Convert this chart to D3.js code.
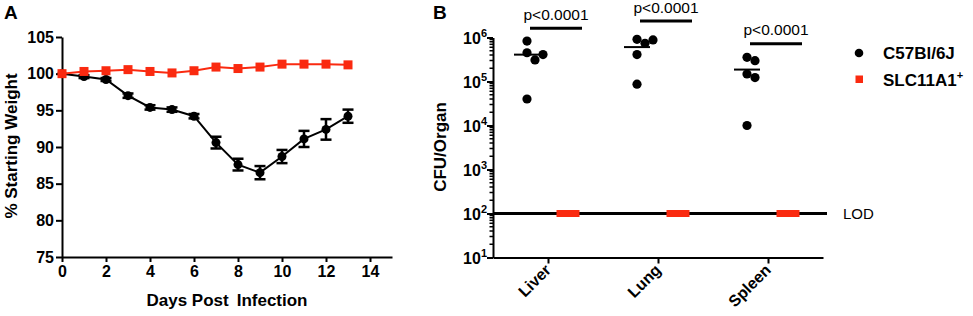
<!DOCTYPE html>
<html>
<head>
  <meta charset="utf-8">
  <title>Weight loss and CFU per organ</title>
  <script src="https://d3js.org/d3.v7.min.js"></script>
  <style>
    body { margin: 0; background: #fff; }
    text { font-family: "Liberation Sans", Arial, sans-serif; }
  </style>
</head>
<body>
  <script>
    // Panel A: % starting weight by day
    let days = [0, 1, 2, 3, 4, 5, 6, 7, 8, 9, 10, 11, 12, 13];
    let c57Weight = [100, 99.6, 99.2, 97.0, 95.4, 95.1, 94.2, 90.6, 87.6, 86.5, 88.7, 91.1, 92.4, 94.2];
    let c57Sem = [0, 0.2, 0.2, 0.3, 0.3, 0.3, 0.3, 0.8, 0.8, 0.9, 0.9, 1.1, 1.4, 0.9];
    let slcWeight = [100, 100.3, 100.4, 100.55, 100.3, 100.1, 100.4, 100.9, 100.7, 100.9, 101.3, 101.3, 101.3, 101.2];
    let weightTicks = [75, 80, 85, 90, 95, 100, 105];
    let dayTicks = [0, 2, 4, 6, 8, 10, 12, 14];

    // Panel B: CFU per organ
    let organs = ["Liver", "Lung", "Spleen"];
    let c57Cfu = [
      [8.3e5, 4.5e5, 4.1e5, 3.1e5, 4.0e4],
      [9.1e5, 8.8e5, 7.4e5, 4.1e5, 8.7e4],
      [3.55e5, 2.97e5, 1.48e5, 1.23e5, 1.0e4]
    ];
    let slcCfu = [
      [100, 100, 100, 100, 100],
      [100, 100, 100, 100, 100],
      [100, 100, 100, 100, 100]
    ];
    let pLabels = ["p<0.0001", "p<0.0001", "p<0.0001"];
    let pHeights = [1.62e6, 2.37e6, 7.2e5];
    let lod = 100;
    let cfuTicks = [1e1, 1e2, 1e3, 1e4, 1e5, 1e6];
    let legendNames = ["C57Bl/6J", "SLC11A1"];

    let red = "#fa2a10";

    let svg = d3.select("body").append("svg")
      .attr("width", 973)
      .attr("height", 316);

    // ---------- Panel A ----------
    let xA = d3.scaleLinear().domain([0, 15]).range([62, 392]);
    let yA = d3.scaleLinear().domain([75, 105]).range([257, 37]);

    svg.append("text").attr("x", 4).attr("y", 19)
      .attr("font-size", 19).attr("font-weight", "bold").text("A");

    let axA = svg.append("g").attr("transform", "translate(0,257)")
      .call(d3.axisBottom(xA).tickValues(dayTicks).tickSize(5).tickPadding(4).tickSizeOuter(0));
    let ayA = svg.append("g").attr("transform", "translate(62,0)")
      .call(d3.axisLeft(yA).tickValues(weightTicks).tickSize(6).tickPadding(2).tickSizeOuter(0));
    [axA, ayA].forEach(function(g) {
      g.select(".domain").attr("stroke-width", 2);
      g.selectAll(".tick line").attr("stroke-width", 2);
      g.selectAll(".tick text").attr("font-size", 16).attr("font-weight", "bold")
        .attr("font-family", "Liberation Sans, Arial, sans-serif").attr("fill", "#000");
    });

    let xt = svg.append("text").attr("x", 227).attr("y", 306).attr("text-anchor", "middle")
      .attr("font-size", 17).attr("font-weight", "bold");
    xt.append("tspan").text("Days Post");
    xt.append("tspan").attr("dx", 8).text("Infection");
    svg.append("text").attr("transform", "translate(17,146) rotate(-90)")
      .attr("text-anchor", "middle").attr("font-size", 17).attr("font-weight", "bold")
      .text("% Starting Weight");

    let lineA = d3.line()
      .x(function(d, i) { return xA(days[i]); })
      .y(function(d) { return yA(d); });

    // black series
    svg.append("path").datum(c57Weight).attr("d", lineA)
      .attr("fill", "none").attr("stroke", "#000").attr("stroke-width", 2);
    let err = svg.append("g").attr("stroke", "#000").attr("stroke-width", 2.5);
    days.forEach(function(d, i) {
      if (c57Sem[i] <= 0) return;
      let x = xA(d), y1 = yA(c57Weight[i] + c57Sem[i]), y2 = yA(c57Weight[i] - c57Sem[i]);
      err.append("line").attr("x1", x).attr("x2", x).attr("y1", y1).attr("y2", y2);
      err.append("line").attr("x1", x - 5.5).attr("x2", x + 5.5).attr("y1", y1).attr("y2", y1);
      err.append("line").attr("x1", x - 5.5).attr("x2", x + 5.5).attr("y1", y2).attr("y2", y2);
    });
    svg.selectAll("circle.c57a").data(c57Weight).enter().append("circle")
      .attr("class", "c57a")
      .attr("cx", function(d, i) { return xA(days[i]); })
      .attr("cy", function(d) { return yA(d); })
      .attr("r", 4.5).attr("fill", "#000");

    // red series
    svg.append("path").datum(slcWeight).attr("d", lineA)
      .attr("fill", "none").attr("stroke", red).attr("stroke-width", 2);
    svg.selectAll("rect.slca").data(slcWeight).enter().append("rect")
      .attr("class", "slca")
      .attr("x", function(d, i) { return xA(days[i]) - 4.5; })
      .attr("y", function(d) { return yA(d) - 4.5; })
      .attr("width", 9).attr("height", 9).attr("fill", red);

    // ---------- Panel B ----------
    let xB = d3.scalePoint().domain(organs).range([493, 823]).padding(0.5);
    let yB = d3.scaleLog().domain([1e1, 1e6]).range([257.5, 37.5]);

    svg.append("text").attr("x", 433).attr("y", 19)
      .attr("font-size", 19).attr("font-weight", "bold").text("B");

    // minor ticks
    let minor = [];
    for (let e = 1; e < 6; e++) for (let m = 2; m <= 9; m++) minor.push(m * Math.pow(10, e));
    svg.append("g").selectAll("line").data(minor).enter().append("line")
      .attr("x1", 489.5).attr("x2", 493)
      .attr("y1", function(d) { return yB(d); }).attr("y2", function(d) { return yB(d); })
      .attr("stroke", "#000").attr("stroke-width", 1.5);

    let axB = svg.append("g").attr("transform", "translate(0,257.5)")
      .call(d3.axisBottom(xB).tickSize(6).tickSizeOuter(0).tickFormat(""));
    let ayB = svg.append("g").attr("transform", "translate(493,0)")
      .call(d3.axisLeft(yB).tickValues(cfuTicks).tickSize(6).tickSizeOuter(0).tickFormat(""));
    [axB, ayB].forEach(function(g) {
      g.select(".domain").attr("stroke-width", 2);
      g.selectAll(".tick line").attr("stroke-width", 2);
    });

    // log tick labels as 10 with superscript exponent
    let tl = svg.append("g").selectAll("text").data(cfuTicks).enter().append("text")
      .attr("x", 487).attr("y", function(d) { return yB(d) + 6.5; })
      .attr("text-anchor", "end").attr("font-size", 16).attr("font-weight", "bold");
    tl.append("tspan").text("10");
    tl.append("tspan").attr("dy", -7).attr("font-size", 11)
      .text(function(d) { return Math.round(Math.log10(d)); });

    // organ labels
    svg.append("g").selectAll("text").data(organs).enter().append("text")
      .attr("transform", function(d) { return "translate(" + (xB(d) + 4) + ",271) rotate(-45)"; })
      .attr("text-anchor", "end").attr("font-size", 16).attr("font-weight", "bold")
      .text(function(d) { return d; });

    svg.append("text").attr("transform", "translate(446,147) rotate(-90)")
      .attr("text-anchor", "middle").attr("font-size", 17).attr("font-weight", "bold")
      .text("CFU/Organ");

    // LOD line
    svg.append("line").attr("x1", 493).attr("x2", 827)
      .attr("y1", yB(lod)).attr("y2", yB(lod))
      .attr("stroke", "#000").attr("stroke-width", 3);
    svg.append("text").attr("x", 843).attr("y", yB(lod) + 5.5)
      .attr("font-size", 15).text("LOD");

    // simple beeswarm: spread points that would overlap
    function swarm(values, minDist, step) {
      let placed = [];
      values.forEach(function(v) {
        let y = yB(v);
        for (let k = 0; k < 20; k++) {
          let off = (k % 2 === 1 ? 1 : -1) * Math.ceil(k / 2) * step;
          let ok = placed.every(function(p) {
            return Math.hypot(p.dx - off, p.y - y) >= minDist;
          });
          if (ok) { placed.push({dx: off, y: y, v: v}); break; }
        }
      });
      return placed;
    }

    organs.forEach(function(o, i) {
      let cBlack = xB(o) - 21, cRed = xB(o) + 20;

      // mean line (black)
      let mean = d3.mean(c57Cfu[i]);
      svg.append("line").attr("x1", cBlack - 13).attr("x2", cBlack + 13)
        .attr("y1", yB(mean)).attr("y2", yB(mean))
        .attr("stroke", "#000").attr("stroke-width", 2);

      swarm(c57Cfu[i], 8.5, 8).forEach(function(p) {
        svg.append("circle").attr("cx", cBlack + p.dx).attr("cy", p.y)
          .attr("r", 4.6).attr("fill", "#000");
      });
      swarm(slcCfu[i], 4, 4).forEach(function(p) {
        svg.append("rect").attr("x", cRed + p.dx - 3.5).attr("y", p.y - 3.5)
          .attr("width", 7).attr("height", 7).attr("fill", red);
      });

      // significance bar
      let sx = xB(o) + 8, sy = yB(pHeights[i]);
      svg.append("line").attr("x1", sx - 26).attr("x2", sx + 26)
        .attr("y1", sy).attr("y2", sy).attr("stroke", "#000").attr("stroke-width", 3);
      svg.append("text").attr("x", sx).attr("y", sy - 8.5).attr("text-anchor", "middle")
        .attr("font-size", 15.5).text(pLabels[i]);
    });

    // legend
    let lg = svg.append("g");
    lg.append("circle").attr("cx", 859).attr("cy", 53).attr("r", 4.3).attr("fill", "#000");
    lg.append("rect").attr("x", 855.5).attr("y", 75.5).attr("width", 7.5).attr("height", 7.5).attr("fill", red);
    lg.append("text").attr("x", 883).attr("y", 59).attr("font-size", 17).attr("font-weight", "bold")
      .text(legendNames[0]);
    let l2 = lg.append("text").attr("x", 883).attr("y", 85.5).attr("font-size", 17).attr("font-weight", "bold");
    l2.append("tspan").text(legendNames[1]);
    l2.append("tspan").attr("dy", -7).attr("font-size", 11).text("+");
  </script>
</body>
</html>
